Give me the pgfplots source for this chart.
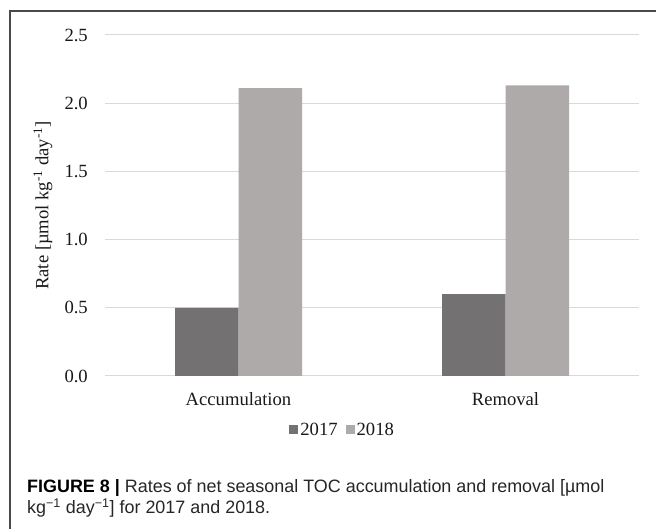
\documentclass[border=0pt]{standalone}
\usepackage{pgfplots}
\pgfplotsset{compat=1.18}
\usepackage{fontspec}
\setmainfont{Liberation Serif}
\newfontfamily\capfont{Liberation Sans}
\definecolor{c17}{HTML}{737171}
\definecolor{c18}{HTML}{AEAAAA}
\definecolor{gridc}{HTML}{D9D9D9}
\definecolor{framec}{HTML}{4A4A4A}
\newcommand{\cf}{\fontsize{18.7}{22}\selectfont}
\pgfplotsset{sq legend/.style={legend image code/.code={\fill[##1] (0bp,-4.5bp) rectangle (9bp,4.5bp);}}}
\begin{document}
\begin{tikzpicture}[x=1bp,y=1bp]
\path[use as bounding box] (0,0) rectangle (656,529);
\draw[framec, line width=1.4bp] (10,0) -- (10,518) -- (656,518);
\begin{axis}[
  at={(105bp,153bp)}, anchor=south west,
  scale only axis, width=534bp, height=341bp,
  ybar=0pt, bar width=63.5bp,
  xmin=-0.5, xmax=1.5, ymin=0, ymax=2.5,
  xtick={0,1}, xticklabels={Accumulation,Removal},
  ytick={0,0.5,1,1.5,2,2.5},
  axis line style={draw=none},
  major tick length=0pt,
  ymajorgrids, grid style={gridc, line width=1bp},
  /pgf/number format/fixed, /pgf/number format/fixed zerofill,
  /pgf/number format/precision=1, /pgf/number format/assume math mode=true,
  tick label style={font=\cf, text=black!90},
  yticklabel style={inner sep=0pt, xshift=-17bp},
  xticklabel style={inner sep=0pt, yshift=-16bp},
  ylabel={Rate [µmol kg\textsuperscript{-1} day\textsuperscript{-1}]},
  ylabel style={at={(axis description cs:-0.116,0.5)}, anchor=center, font=\cf, text=black!90},
  legend style={at={(axis description cs:0.445,-0.158)}, anchor=center, draw=none, fill=none,
    legend columns=-1, font=\cf, text=black!90, inner sep=0pt,
    /tikz/every even column/.append style={column sep=6bp}},
]
\addplot[fill=c17, draw=none, sq legend]
  coordinates {(0,0.50) (1,0.60)};
\addplot[fill=c18, draw=none, sq legend]
  coordinates {(0,2.11) (1,2.13)};
\legend{2017,2018}
\end{axis}
\node[anchor=base west, inner sep=0pt, font=\capfont\fontsize{18}{20}\selectfont, text=black!85] at (27,36)
  {\textbf{\color{black}FIGURE 8 |} Rates of net seasonal TOC accumulation and removal [µmol};
\node[anchor=base west, inner sep=0pt, font=\capfont\fontsize{18}{20}\selectfont, text=black!85] at (27,15)
  {kg\textsuperscript{−1} day\textsuperscript{−1}] for 2017 and 2018.};
\end{tikzpicture}
\end{document}
